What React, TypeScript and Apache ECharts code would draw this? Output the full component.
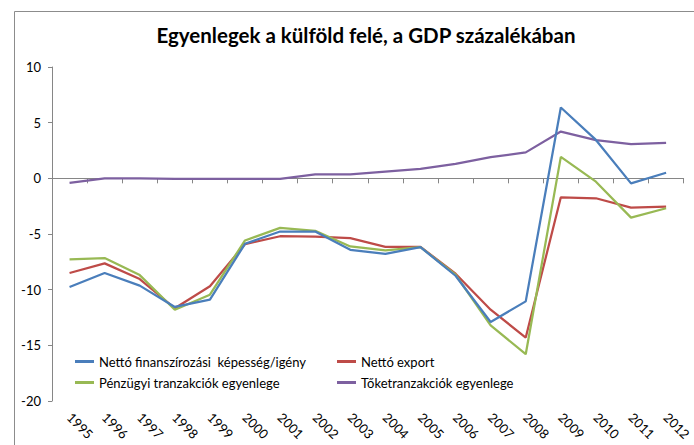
import React, { useEffect, useRef } from "react";
import * as echarts from "echarts";

const years = ["1995","1996","1997","1998","1999","2000","2001","2002","2003","2004","2005","2006","2007","2008","2009","2010","2011","2012"];
const nettoFinansz = [-9.76,-8.5,-9.64,-11.55,-10.9,-5.88,-4.78,-4.78,-6.42,-6.78,-6.18,-8.75,-12.9,-11.05,6.36,3.45,-0.45,0.5];
const nettoExport = [-8.5,-7.64,-9.05,-11.67,-9.7,-5.91,-5.2,-5.23,-5.37,-6.15,-6.15,-8.57,-11.8,-14.3,-1.7,-1.79,-2.63,-2.54];
const penzugyi = [-7.28,-7.16,-8.69,-11.8,-10.45,-5.58,-4.45,-4.72,-6.12,-6.48,-6.18,-8.66,-13.2,-15.8,1.93,-0.3,-3.53,-2.69];
const toke = [-0.4,0,0,-0.05,-0.05,-0.05,-0.05,0.35,0.35,0.6,0.85,1.3,1.9,2.33,4.2,3.43,3.07,3.19];

const names = [
  "Nettó finanszírozási  képesség/igény",
  "Nettó export",
  "Pénzügyi tranzakciók egyenlege",
  "Tőketranzakciók egyenlege",
];
const colors = ["#4A7EBB", "#BE4B48", "#98B954", "#7D60A0"];
const FONT = "Lato";

export default function App() {
  const ref = useRef<HTMLDivElement>(null);
  useEffect(() => {
    const chart = echarts.init(ref.current!, null, { renderer: "svg" });
    const seriesData = [nettoFinansz, nettoExport, penzugyi, toke];
    const legendBase = {
      orient: "vertical",
      itemWidth: 19,
      itemHeight: 3,
      itemGap: 8,
      icon: "rect",
      textStyle: { fontFamily: FONT, fontSize: 13, color: "#000" },
    };
    chart.setOption({
      animation: false,
      backgroundColor: "#fff",
      title: {
        text: "Egyenlegek a külföld felé, a GDP százalékában",
        left: 361,
        textAlign: "center",
        top: 19,
        textStyle: { fontFamily: FONT, fontSize: 20.5, fontWeight: "bold", color: "#000" },
      },
      graphic: [
        {
          type: "rect",
          shape: { x: 14.5, y: 11.5, width: 720, height: 460 },
          style: { fill: "none", stroke: "#8c8c8c", lineWidth: 1 },
          silent: true,
          z: -1,
        },
      ],
      legend: [
        { ...legendBase, data: [names[0], names[2]], left: 70, top: 350 },
        { ...legendBase, data: [names[1], names[3]], left: 332, top: 350 },
      ],
      grid: { left: 52, right: 5, top: 67, bottom: 44, containLabel: false },
      xAxis: {
        type: "category",
        data: years,
        boundaryGap: true,
        axisLine: { lineStyle: { color: "#868686", width: 1 } },
        axisTick: { show: true, length: 5, lineStyle: { color: "#868686" } },
        axisLabel: {
          rotate: -45,
          fontFamily: FONT,
          fontSize: 13,
          color: "#000",
          margin: 14,
          interval: 0,
        },
      },
      yAxis: {
        type: "value",
        min: -20,
        max: 10,
        interval: 5,
        splitLine: { show: false },
        axisLine: { show: true, lineStyle: { color: "#868686", width: 1 } },
        axisTick: { show: true, length: 4, lineStyle: { color: "#868686" } },
        axisLabel: { fontFamily: FONT, fontSize: 13, color: "#000", margin: 11 },
      },
      series: names.map((n, i) => ({
        name: n,
        type: "line",
        data: seriesData[i],
        symbol: "none",
        lineStyle: { color: colors[i], width: 2.25 },
        itemStyle: { color: colors[i] },
        z: i === 0 ? 5 : 3,
      })),
    });
    return () => chart.dispose();
  }, []);
  return (
    <div
      ref={ref}
      style={{ position: "fixed", left: 0, top: 0, width: 694, height: 445 }}
    />
  );
}
